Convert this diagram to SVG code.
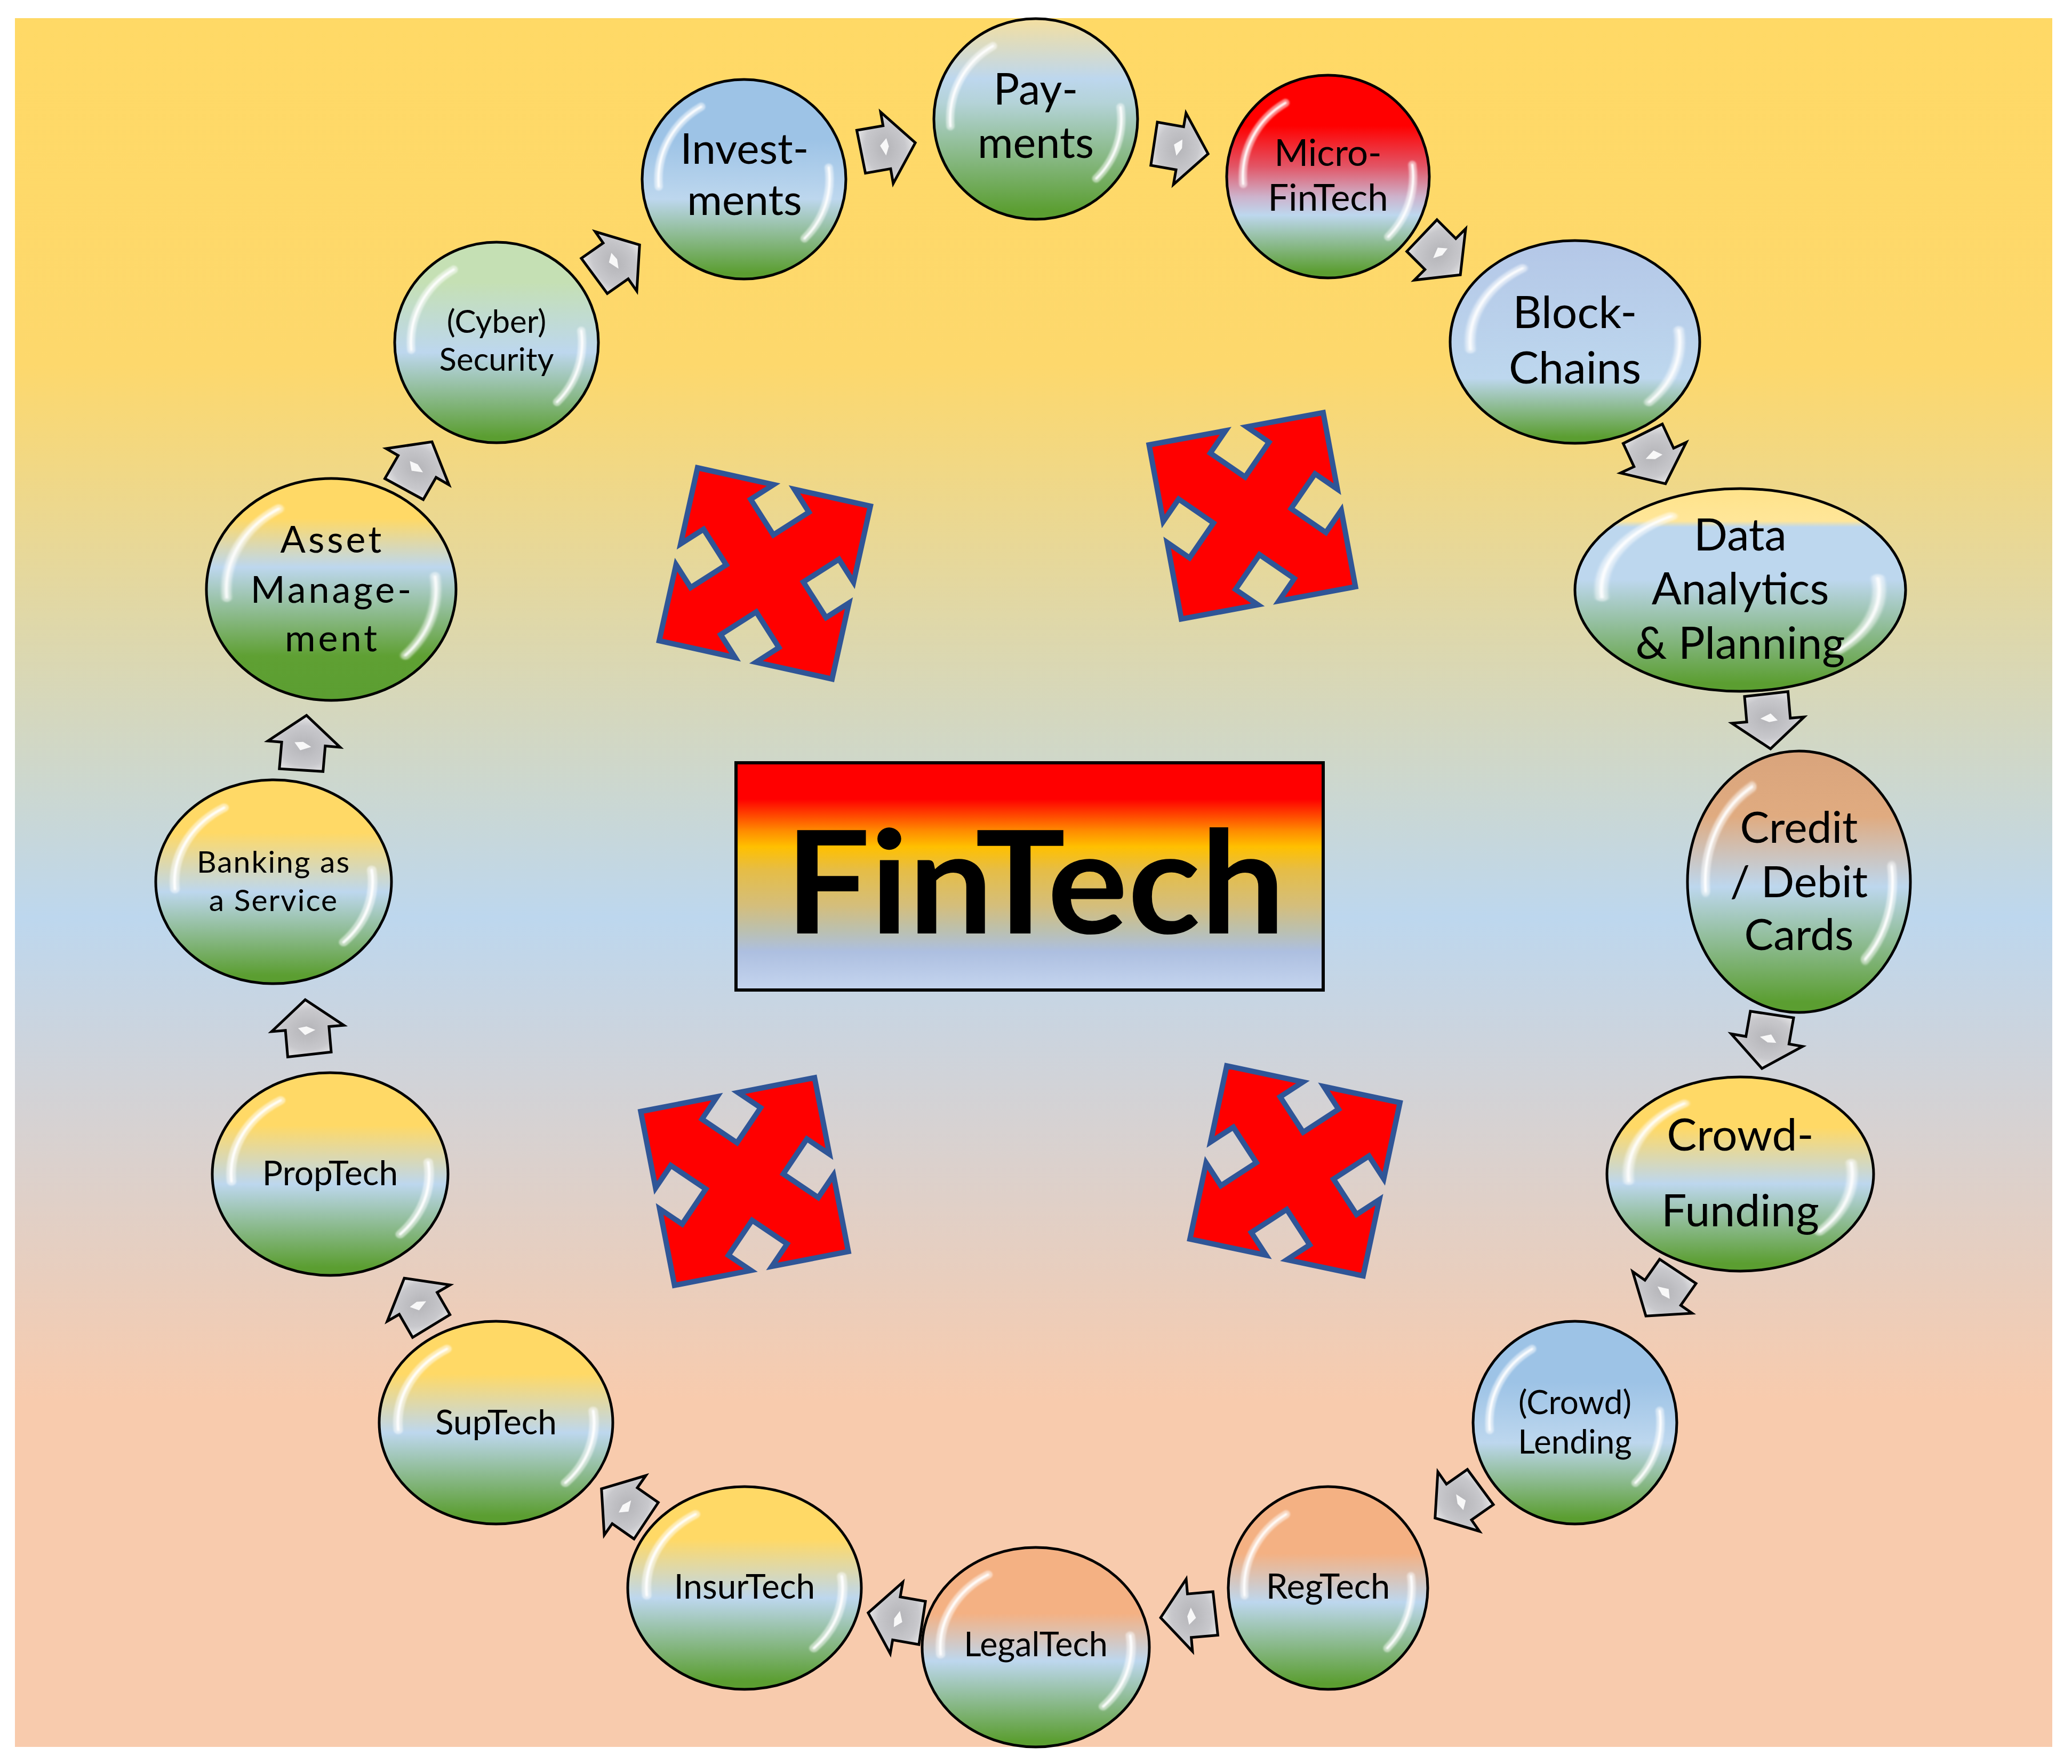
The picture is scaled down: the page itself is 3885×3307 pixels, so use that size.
<svg xmlns="http://www.w3.org/2000/svg" width="3885" height="3307" viewBox="0 0 3885 3307">
<style>
.ell{stroke:#000;stroke-width:5}
.lbl{font-family:Lato,'Open Sans','Liberation Sans',sans-serif;fill:#000;text-anchor:middle}
.arrow{fill:url(#gArr);stroke:#000;stroke-width:5;stroke-linejoin:miter}
.cross{fill:#FF0000;stroke:#2F5597;stroke-width:10;stroke-linejoin:miter}
.sh1{fill:none;stroke:#fff;stroke-opacity:0.5;stroke-width:8;stroke-linecap:round}
.sh2{fill:none;stroke:#fff;stroke-width:2.4;stroke-linecap:round}
</style>
<defs>
<linearGradient id="gBg" x1="0" y1="0" x2="0" y2="1">
<stop offset="0" stop-color="#FFD966"/><stop offset="0.2" stop-color="#FDD86C"/><stop offset="0.52" stop-color="#BDD7EE"/><stop offset="0.8" stop-color="#F8CBAD"/><stop offset="1" stop-color="#F8CBAD"/>
</linearGradient>
<linearGradient id="gBox" x1="0" y1="0" x2="0" y2="1">
<stop offset="0" stop-color="#FF0000"/><stop offset="0.16" stop-color="#FF0000"/><stop offset="0.3" stop-color="#FF8C00"/><stop offset="0.37" stop-color="#FFC000"/><stop offset="0.47" stop-color="#E6BD45"/><stop offset="0.63" stop-color="#D4BE7C"/><stop offset="0.74" stop-color="#BBC0B0"/><stop offset="0.83" stop-color="#ADBFE0"/><stop offset="1" stop-color="#C5D5EF"/>
</linearGradient>
<linearGradient id="gPay" x1="0" y1="0" x2="0" y2="1"><stop offset="0" stop-color="#F4DFA0"/><stop offset="0.3" stop-color="#BDD7EE"/><stop offset="0.42" stop-color="#B4D3D8"/><stop offset="0.96" stop-color="#5B9E31"/></linearGradient>
<linearGradient id="gMic" x1="0" y1="0" x2="0" y2="1"><stop offset="0" stop-color="#FF0000"/><stop offset="0.25" stop-color="#FF0000"/><stop offset="0.45" stop-color="#E25566"/><stop offset="0.6" stop-color="#CDB3CC"/><stop offset="0.69" stop-color="#BDD7EE"/><stop offset="0.97" stop-color="#5B9E31"/></linearGradient>
<linearGradient id="gBlk" x1="0" y1="0" x2="0" y2="1"><stop offset="0" stop-color="#B4C7E7"/><stop offset="0.68" stop-color="#BDD7EE"/><stop offset="0.97" stop-color="#5B9E31"/></linearGradient>
<linearGradient id="gDat" x1="0" y1="0" x2="0" y2="1"><stop offset="0" stop-color="#FFE38A"/><stop offset="0.16" stop-color="#FFE699"/><stop offset="0.19" stop-color="#BDD7EE"/><stop offset="0.45" stop-color="#BDD7EE"/><stop offset="0.96" stop-color="#5B9E31"/></linearGradient>
<linearGradient id="gCrd" x1="0" y1="0" x2="0" y2="1"><stop offset="0" stop-color="#D9A47C"/><stop offset="0.25" stop-color="#E0AB80"/><stop offset="0.52" stop-color="#BDD7EE"/><stop offset="0.96" stop-color="#5B9E31"/></linearGradient>
<linearGradient id="gY" x1="0" y1="0" x2="0" y2="1"><stop offset="0" stop-color="#FFD966"/><stop offset="0.26" stop-color="#FFD966"/><stop offset="0.55" stop-color="#BDD7EE"/><stop offset="0.96" stop-color="#5B9E31"/></linearGradient>
<linearGradient id="gYa" x1="0" y1="0" x2="0" y2="1"><stop offset="0" stop-color="#FFD966"/><stop offset="0.18" stop-color="#FFD966"/><stop offset="0.4" stop-color="#BDD7EE"/><stop offset="0.8" stop-color="#5FA033"/><stop offset="1" stop-color="#5B9E31"/></linearGradient>
<linearGradient id="gBlu" x1="0" y1="0" x2="0" y2="1"><stop offset="0" stop-color="#9DC3E6"/><stop offset="0.3" stop-color="#9DC3E6"/><stop offset="0.6" stop-color="#BDD7EE"/><stop offset="0.97" stop-color="#5B9E31"/></linearGradient>
<linearGradient id="gOr" x1="0" y1="0" x2="0" y2="1"><stop offset="0" stop-color="#F4B183"/><stop offset="0.33" stop-color="#F4B183"/><stop offset="0.57" stop-color="#BDD7EE"/><stop offset="0.97" stop-color="#5B9E31"/></linearGradient>
<linearGradient id="gGrn" x1="0" y1="0" x2="0" y2="1"><stop offset="0" stop-color="#C5E0B4"/><stop offset="0.2" stop-color="#C5E0B4"/><stop offset="0.55" stop-color="#BDD7EE"/><stop offset="0.97" stop-color="#5B9E31"/></linearGradient>
<radialGradient id="gArr" cx="0.45" cy="0.5" r="0.6"><stop offset="0" stop-color="#B4B4B8"/><stop offset="0.6" stop-color="#C8C8CC"/><stop offset="1" stop-color="#F2F2F2"/></radialGradient>
<filter id="soft" x="-20%" y="-20%" width="140%" height="140%"><feGaussianBlur stdDeviation="0.8"/></filter>
<g id="shine" filter="url(#soft)">
<path class="sh1" d="M-83.7,7.3 A84,84 0 0 1 -42,-72.7 M83.2,-11.7 A84,84 0 0 1 59.4,59.4"/>
<path class="sh2" d="M-83.7,7.3 A84,84 0 0 1 -42,-72.7 M83.2,-11.7 A84,84 0 0 1 59.4,59.4"/>
</g>
<g id="arr">
<path class="arrow" d="M-50,-42 L0,-42 L0,-68 L54,0 L0,68 L0,40 L-48,40 Z"/>
<path d="M-12,-6 L2,-18 L4,-2 L-4,14 Z" fill="#fff" opacity="0.9"/>
</g>
<path id="crs" class="cross" d="M-166,-166 L-20,-166 L-56,-130 L0,-74 L56,-130 L20,-166 L166,-166 L166,-20 L130,-56 L74,0 L130,56 L166,20 L166,166 L20,166 L56,130 L0,74 L-56,130 L-20,166 L-166,166 L-166,20 L-130,56 L-74,0 L-130,-56 L-166,-20 Z"/>
</defs>

<rect x="0" y="0" width="3885" height="3307" fill="#fff"/>
<rect x="28" y="34" width="3820" height="3241" fill="url(#gBg)"/>

<g id="crosses">
<use href="#crs" transform="translate(1434,1075) rotate(12.5)"/>
<use href="#crs" transform="translate(2348,967) rotate(-10.5)"/>
<use href="#crs" transform="translate(1396,2215) rotate(-11)"/>
<use href="#crs" transform="translate(2428,2195) rotate(12)"/>
</g>

<g id="center">
<rect x="1380" y="1430" width="1101" height="426" fill="url(#gBox)" stroke="#000" stroke-width="6"/>
<text x="1472" y="1750" font-family="Lato,'Open Sans','Liberation Sans',sans-serif" font-weight="bold" font-size="268" textLength="938" lengthAdjust="spacingAndGlyphs" fill="#000">FinTech</text>
</g>

<g id="connectors">
<use href="#arr" transform="translate(1663,277) rotate(-10)"/>
<use href="#arr" transform="translate(2212,279) rotate(10)"/>
<use href="#arr" transform="translate(2700,477) rotate(45)"/>
<use href="#arr" transform="translate(3100,858) rotate(65)"/>
<use href="#arr" transform="translate(3315,1350) rotate(85)"/>
<use href="#arr" transform="translate(3313,1950) rotate(100)"/>
<use href="#arr" transform="translate(3117,2423) rotate(125)"/>
<use href="#arr" transform="translate(2735,2815) rotate(145)"/>
<use href="#arr" transform="translate(2230,3028) rotate(175)"/>
<use href="#arr" transform="translate(1681,3033) rotate(190)"/>
<use href="#arr" transform="translate(1172,2822) rotate(215)"/>
<use href="#arr" transform="translate(785,2443) rotate(240)"/>
<use href="#arr" transform="translate(577,1928) rotate(265)"/>
<use href="#arr" transform="translate(570,1395) rotate(275)"/>
<use href="#arr" transform="translate(783,875) rotate(300)"/>
<use href="#arr" transform="translate(1155,490) rotate(325)"/>
</g>

<g id="n-payments">
<ellipse class="ell" cx="1942" cy="223" rx="191" ry="188" fill="url(#gPay)"/>
<use href="#shine" transform="translate(1942,223) scale(1.91,1.88)"/>
<text class="lbl" font-size="81"><tspan x="1942" y="196">Pay-</tspan><tspan x="1942" y="296">ments</tspan></text>
</g>
<g id="n-microfintech">
<ellipse class="ell" cx="2490" cy="331" rx="190" ry="190" fill="url(#gMic)"/>
<use href="#shine" transform="translate(2490,331) scale(1.9,1.9)"/>
<text class="lbl" font-size="69"><tspan x="2490" y="311">Micro-</tspan><tspan x="2490" y="395">FinTech</tspan></text>
</g>
<g id="n-blockchains">
<ellipse class="ell" cx="2953" cy="641" rx="234" ry="190" fill="url(#gBlk)"/>
<use href="#shine" transform="translate(2953,641) scale(2.34,1.9)"/>
<text class="lbl" font-size="84"><tspan x="2953" y="615">Block-</tspan><tspan x="2953" y="719">Chains</tspan></text>
</g>
<g id="n-data">
<ellipse class="ell" cx="3263" cy="1106" rx="310" ry="190" fill="url(#gDat)"/>
<use href="#shine" transform="translate(3263,1106) scale(3.1,1.9)"/>
<text class="lbl" font-size="83"><tspan x="3263" y="1032">Data</tspan><tspan x="3263" y="1133">Analytics</tspan><tspan x="3263" y="1235">&amp; Planning</tspan></text>
</g>
<g id="n-cards">
<ellipse class="ell" cx="3373" cy="1653" rx="209" ry="245" fill="url(#gCrd)"/>
<use href="#shine" transform="translate(3373,1653) scale(2.09,2.45)"/>
<text class="lbl" font-size="82"><tspan x="3373" y="1580">Credit</tspan><tspan x="3373" y="1682">/ Debit</tspan><tspan x="3373" y="1781">Cards</tspan></text>
</g>
<g id="n-crowdfunding">
<ellipse class="ell" cx="3263" cy="2201" rx="250" ry="182" fill="url(#gY)"/>
<use href="#shine" transform="translate(3263,2201) scale(2.5,1.82)"/>
<text class="lbl" font-size="84"><tspan x="3263" y="2157">Crowd-</tspan><tspan x="3263" y="2299">Funding</tspan></text>
</g>
<g id="n-lending">
<ellipse class="ell" cx="2953" cy="2667" rx="191" ry="190" fill="url(#gBlu)"/>
<use href="#shine" transform="translate(2953,2667) scale(1.91,1.9)"/>
<text class="lbl" font-size="62"><tspan x="2953" y="2651">(Crowd)</tspan><tspan x="2953" y="2725">Lending</tspan></text>
</g>
<g id="n-regtech">
<ellipse class="ell" cx="2490" cy="2977" rx="187" ry="190" fill="url(#gOr)"/>
<use href="#shine" transform="translate(2490,2977) scale(1.87,1.9)"/>
<text class="lbl" font-size="65" x="2490" y="2997">RegTech</text>
</g>
<g id="n-legaltech">
<ellipse class="ell" cx="1942" cy="3088" rx="213" ry="187" fill="url(#gOr)"/>
<use href="#shine" transform="translate(1942,3088) scale(2.13,1.87)"/>
<text class="lbl" font-size="63" x="1942" y="3105">LegalTech</text>
</g>
<g id="n-insurtech">
<ellipse class="ell" cx="1396" cy="2977" rx="219" ry="190" fill="url(#gY)"/>
<use href="#shine" transform="translate(1396,2977) scale(2.19,1.9)"/>
<text class="lbl" font-size="64" x="1396" y="2997">InsurTech</text>
</g>
<g id="n-suptech">
<ellipse class="ell" cx="930" cy="2667" rx="219" ry="190" fill="url(#gY)"/>
<use href="#shine" transform="translate(930,2667) scale(2.19,1.9)"/>
<text class="lbl" font-size="64" x="930" y="2689">SupTech</text>
</g>
<g id="n-proptech">
<ellipse class="ell" cx="619" cy="2201" rx="221" ry="190" fill="url(#gY)"/>
<use href="#shine" transform="translate(619,2201) scale(2.21,1.9)"/>
<text class="lbl" font-size="64" x="619" y="2222">PropTech</text>
</g>
<g id="n-baas">
<ellipse class="ell" cx="513" cy="1653" rx="221" ry="191" fill="url(#gY)"/>
<use href="#shine" transform="translate(513,1653) scale(2.21,1.91)"/>
<text class="lbl" font-size="57" letter-spacing="2"><tspan x="513" y="1636">Banking as</tspan><tspan x="513" y="1708">a Service</tspan></text>
</g>
<g id="n-asset">
<ellipse class="ell" cx="621" cy="1105" rx="234" ry="208" fill="url(#gYa)"/>
<use href="#shine" transform="translate(621,1105) scale(2.34,2.08)"/>
<text class="lbl" font-size="70" letter-spacing="5"><tspan x="623" y="1036">Asset</tspan><tspan x="623" y="1130">Manage-</tspan><tspan x="623" y="1221">ment</tspan></text>
</g>
<g id="n-security">
<ellipse class="ell" cx="931" cy="642" rx="191" ry="188" fill="url(#gGrn)"/>
<use href="#shine" transform="translate(931,642) scale(1.91,1.88)"/>
<text class="lbl" font-size="60"><tspan x="931" y="624">(Cyber)</tspan><tspan x="931" y="695">Security</tspan></text>
</g>
<g id="n-investments">
<ellipse class="ell" cx="1395" cy="336" rx="191" ry="187" fill="url(#gBlu)"/>
<use href="#shine" transform="translate(1395,336) scale(1.91,1.87)"/>
<text class="lbl" font-size="80"><tspan x="1396" y="307">Invest-</tspan><tspan x="1396" y="403">ments</tspan></text>
</g>
</svg>
